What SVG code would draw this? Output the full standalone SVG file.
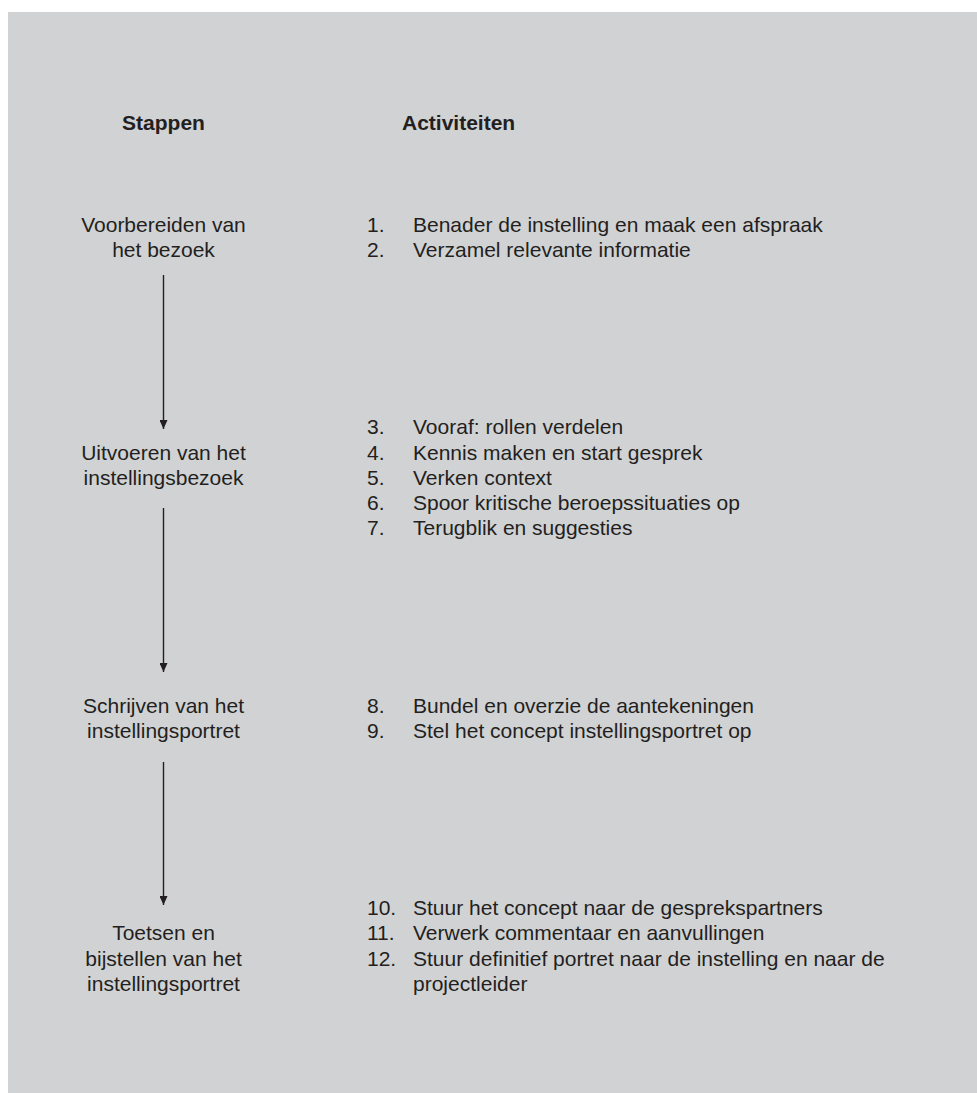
<svg xmlns="http://www.w3.org/2000/svg" width="977" height="1093" viewBox="0 0 977 1093">
<defs>
<style>
.t{font-family:"Liberation Sans",Arial,Helvetica,sans-serif;font-size:21px;fill:#231f20}
.h{font-family:"Liberation Sans",Arial,Helvetica,sans-serif;font-size:21px;font-weight:bold;fill:#231f20}
.c{text-anchor:middle}
.conn{stroke:#231f20;stroke-width:1.4;fill:none}
</style>
<marker id="ah" viewBox="0 0 9 8" refX="9" refY="4" markerWidth="9" markerHeight="8" markerUnits="userSpaceOnUse" orient="auto">
<path d="M0,0 L9,4 L0,8 Z" fill="#231f20"/>
</marker>
</defs>
<rect x="8" y="12" width="969" height="1081" fill="#d1d2d4"/>
<g id="headers">
<text class="h c" x="163.5" y="130">Stappen</text>
<text class="h" x="402" y="130">Activiteiten</text>
</g>
<g id="step1">
<text class="t c" x="163.5" y="232">Voorbereiden van</text>
<text class="t c" x="163.5" y="257">het bezoek</text>
</g>
<g id="act1">
<text class="t" x="367" y="232">1.</text><text class="t" x="413" y="232">Benader de instelling en maak een afspraak</text>
<text class="t" x="367" y="257">2.</text><text class="t" x="413" y="257">Verzamel relevante informatie</text>
</g>
<g id="step2">
<text class="t c" x="163.5" y="460">Uitvoeren van het</text>
<text class="t c" x="163.5" y="485">instellingsbezoek</text>
</g>
<g id="act2">
<text class="t" x="367" y="434">3.</text><text class="t" x="413" y="434">Vooraf: rollen verdelen</text>
<text class="t" x="367" y="460">4.</text><text class="t" x="413" y="460">Kennis maken en start gesprek</text>
<text class="t" x="367" y="485">5.</text><text class="t" x="413" y="485">Verken context</text>
<text class="t" x="367" y="510">6.</text><text class="t" x="413" y="510">Spoor kritische beroepssituaties op</text>
<text class="t" x="367" y="535">7.</text><text class="t" x="413" y="535">Terugblik en suggesties</text>
</g>
<g id="step3">
<text class="t c" x="163.5" y="713">Schrijven van het</text>
<text class="t c" x="163.5" y="738">instellingsportret</text>
</g>
<g id="act3">
<text class="t" x="367" y="713">8.</text><text class="t" x="413" y="713">Bundel en overzie de aantekeningen</text>
<text class="t" x="367" y="738">9.</text><text class="t" x="413" y="738">Stel het concept instellingsportret op</text>
</g>
<g id="step4">
<text class="t c" x="163.5" y="940">Toetsen en</text>
<text class="t c" x="163.5" y="966">bijstellen van het</text>
<text class="t c" x="163.5" y="991">instellingsportret</text>
</g>
<g id="act4">
<text class="t" x="367" y="915">10.</text><text class="t" x="413" y="915">Stuur het concept naar de gesprekspartners</text>
<text class="t" x="367" y="940">11.</text><text class="t" x="413" y="940">Verwerk commentaar en aanvullingen</text>
<text class="t" x="367" y="966">12.</text><text class="t" x="413" y="966">Stuur definitief portret naar de instelling en naar de</text>
<text class="t" x="413" y="991">projectleider</text>
</g>
<g id="connectors">
<line class="conn" x1="163.5" y1="275" x2="163.5" y2="429" marker-end="url(#ah)"/>
<line class="conn" x1="163.5" y1="508" x2="163.5" y2="672" marker-end="url(#ah)"/>
<line class="conn" x1="163.5" y1="762" x2="163.5" y2="905" marker-end="url(#ah)"/>
</g>
</svg>
